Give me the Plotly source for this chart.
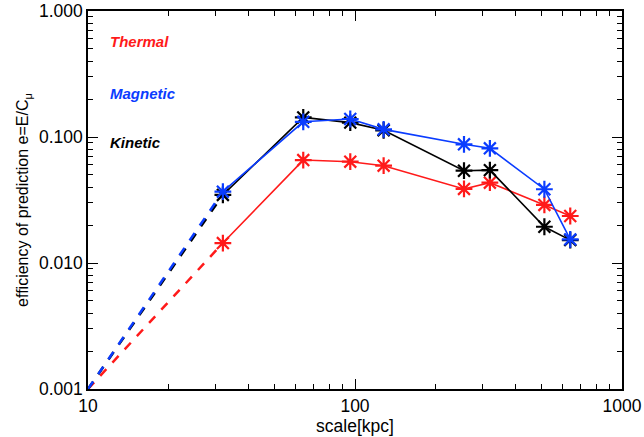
import plotly.graph_objects as go
import numpy as np

scale = [32, 64, 96, 128, 256, 320, 512, 640]
thermal = [0.0144, 0.0656, 0.0637, 0.0592, 0.0387, 0.0434, 0.0289, 0.0236]
magnetic = [0.0368, 0.132, 0.139, 0.115, 0.0875, 0.0813, 0.0385, 0.0154]
kinetic = [0.0347, 0.143, 0.130, 0.113, 0.054, 0.0546, 0.0194, 0.0152]
origin_x = 10
origin_y = 0.001

series = [("Thermal", thermal, "#ff1a1a"), ("Kinetic", kinetic, "#000000"), ("Magnetic", magnetic, "#0a3cff")]
FONT = "Liberation Sans, Arial, Helvetica, sans-serif"

fig = go.Figure()
for name, vals, col in series:
    fig.add_trace(go.Scatter(x=[origin_x, scale[0]], y=[origin_y, vals[0]], mode="lines",
                             line=dict(color=col, width=2.5, dash="dash"), showlegend=False))
for name, vals, col in series:
    fig.add_trace(go.Scatter(x=scale, y=vals, mode="lines+markers", name=name,
                             line=dict(color=col, width=1.6),
                             marker=dict(symbol="asterisk-open", size=14, color=col,
                                         line=dict(color=col, width=2.2)),
                             showlegend=False))

labels = [("Thermal", "#ff1a1a", 0.918), ("Magnetic", "#0a3cff", 0.783), ("Kinetic", "#000000", 0.651)]
for txt, col, yp in labels:
    fig.add_annotation(x=0.037, y=yp, xref="paper", yref="paper", text=f"<b><i>{txt}</i></b>",
                       showarrow=False, xanchor="left", yanchor="middle",
                       font=dict(color=col, size=15, family=FONT))

yt = [0.001, 0.01, 0.1, 1.0]
ytext = ["0.001", "0.010", "0.100", "1.000"]
xt = [10, 100, 1000]
xtext = ["10", "100", "1000"]
yminor = [m * 10.0**e for e in (-3, -2, -1) for m in range(2, 10)]
xminor = [m * 10.0**e for e in (1, 2) for m in range(2, 10)]

axis_common = dict(showline=True, linecolor="black", linewidth=1.5, mirror="ticks",
                   ticks="inside", ticklen=10, tickwidth=1.2, tickcolor="black",
                   showgrid=False, zeroline=False, automargin=False,
                   tickfont=dict(size=17.5, family=FONT, color="black"))

fig.update_xaxes(type="log", range=[1, 3], tickmode="array", tickvals=xt, ticktext=xtext,
                 minor=dict(tickmode="array", tickvals=xminor, ticks="inside", ticklen=5,
                            tickwidth=1, tickcolor="black", showgrid=False),
                 title=dict(text="scale[kpc]", font=dict(size=17.5, family=FONT, color="black"), standoff=0),
                 **axis_common)
fig.update_yaxes(type="log", range=[-3, 0], tickmode="array", tickvals=yt, ticktext=ytext,
                 minor=dict(tickmode="array", tickvals=yminor, ticks="inside", ticklen=5,
                            tickwidth=1, tickcolor="black", showgrid=False),
                 title=dict(text="efficiency of prediction e=E/C<sub>μ</sub>",
                            font=dict(size=16, family=FONT, color="black"), standoff=6),
                 **axis_common)

fig.update_layout(width=644, height=437, margin=dict(l=88, r=22, t=11, b=48),
                  plot_bgcolor="white", paper_bgcolor="white", font=dict(family=FONT))
fig.write_html("out.html")
